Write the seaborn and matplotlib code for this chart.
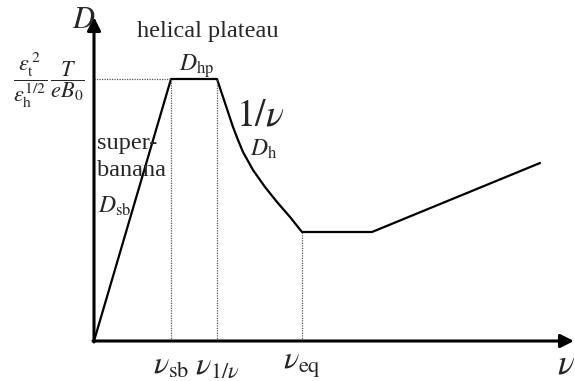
import matplotlib
matplotlib.use("Agg")
import matplotlib.pyplot as plt
import seaborn as sns
import pandas as pd

# Schematic data (arbitrary units)
nu = [0, 77, 123, 127, 131, 135, 139, 144, 149, 159, 171, 183, 196, 208, 278, 446]
D = [0, 262, 262, 250, 238, 226, 214, 201, 189, 171, 154, 139, 124, 109, 109, 178]

nu_ticks = [77, 123, 208]
nu_tick_labels = [r"$\nu_{\mathrm{sb}}$", r"$\nu_{1/\nu}$", r"$\nu_{\mathrm{eq}}$"]
D_marks = [262, 262, 109]
D_hp = 262

sns.set_theme(style="white")
plt.rcParams["font.family"] = ["Liberation Serif", "DejaVu Serif"]
plt.rcParams["mathtext.fontset"] = "stix"

fig = plt.figure(figsize=(5.75, 3.81), dpi=100)
ax = fig.add_axes([0, 0, 1, 1])
ax.set_xlim(-94, 481)
ax.set_ylim(-40, 341)
ax.axis("off")

df = pd.DataFrame({"nu": nu, "D": D})
sns.lineplot(data=df, x="nu", y="D", sort=False, estimator=None,
             color="black", linewidth=1.6, ax=ax)

# dotted guides
for xv, yv in zip(nu_ticks, D_marks):
    ax.plot([xv, xv], [0, yv], color="#555555", lw=0.9, ls=(0, (1, 1)))
ax.plot([0, nu_ticks[0]], [D_hp, D_hp], color="#555555", lw=0.9, ls=(0, (1, 1)))

# axes arrows
ax.annotate("", xy=(480, 0), xytext=(-1, 0),
            arrowprops=dict(arrowstyle="-|>", lw=2.2, color="black",
                            mutation_scale=20, shrinkA=0, shrinkB=0))
ax.annotate("", xy=(0, 324), xytext=(0, -1),
            arrowprops=dict(arrowstyle="-|>", lw=2.2, color="black",
                            mutation_scale=20, shrinkA=0, shrinkB=0))

# tick labels
for xv, lab in zip(nu_ticks, nu_tick_labels):
    ax.text(xv, -25, lab, ha="center", va="center", fontsize=23)
ax.text(472, -24, r"$\nu$", ha="center", va="center", fontsize=25)
ax.text(-10, 321, r"$D$", ha="center", va="center", fontsize=22)

# annotations
ax.text(114, 309, "helical plateau", ha="center", va="center", fontsize=17.5)
ax.text(103, 275, r"$D_{\mathrm{hp}}$", ha="center", va="center", fontsize=17)
ax.text(-45, 261, r"$\dfrac{\varepsilon_{\mathrm{t}}^{\,2}}{\varepsilon_{\mathrm{h}}^{1/2}}\,\dfrac{T}{eB_0}$",
        ha="center", va="center", fontsize=16)
ax.text(166, 225, r"$1/\nu$", ha="center", va="center", fontsize=27)
ax.text(170, 192, r"$D_{\mathrm{h}}$", ha="center", va="center", fontsize=17)
ax.text(3, 197, "super-", ha="left", va="center", fontsize=17.5)
ax.text(3, 171, "banana", ha="left", va="center", fontsize=17.5)
ax.text(4, 135, r"$D_{\mathrm{sb}}$", ha="left", va="center", fontsize=17)

fig.savefig("out.png", dpi=100, facecolor="white")
